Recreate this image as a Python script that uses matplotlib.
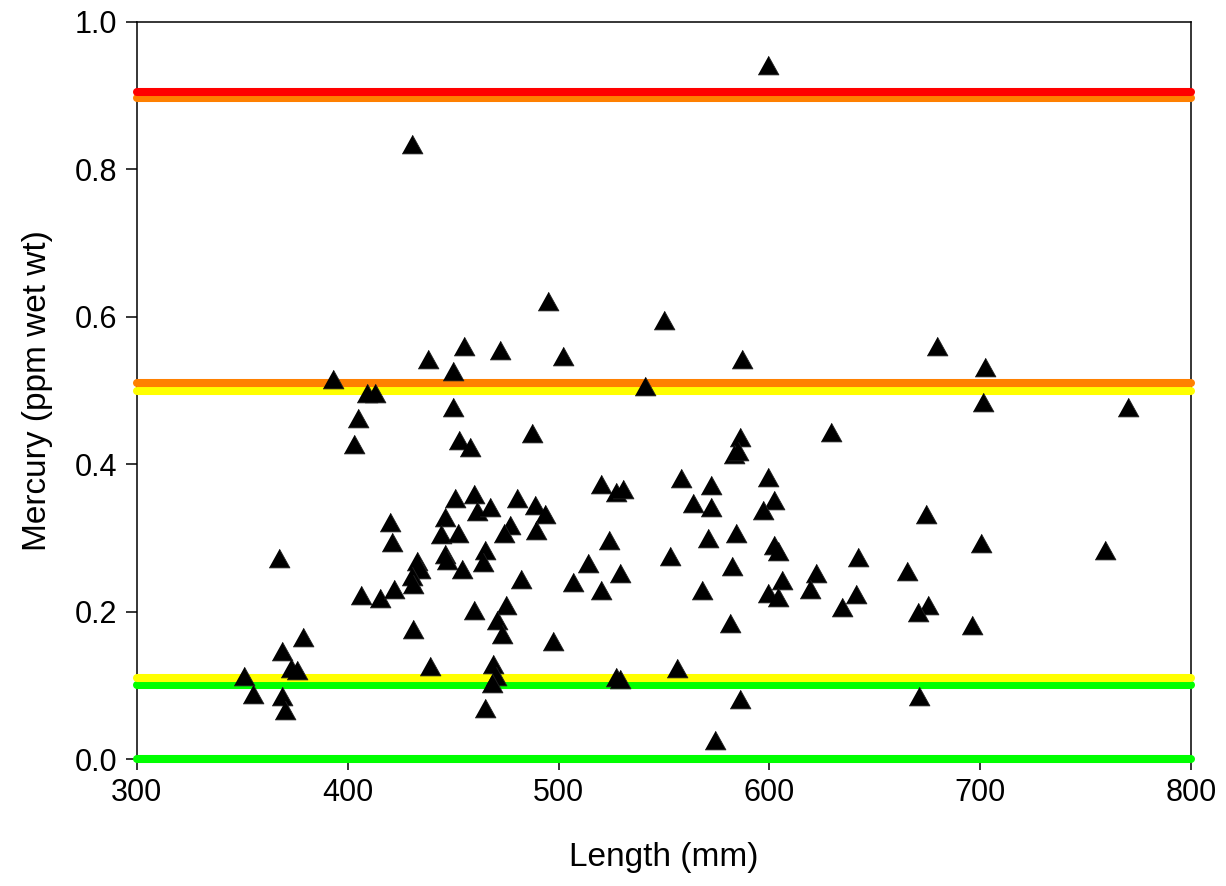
import matplotlib
matplotlib.use("Agg")
import matplotlib.pyplot as plt

plt.rcParams['font.family'] = ['Liberation Sans', 'DejaVu Sans']

# fish length (mm) and mercury (ppm wet wt)
length = [430.3, 599.2, 438.2, 455.1, 472.2, 450.0, 393.1, 409.0, 413.0, 495.1,
          550.2, 502.2, 587.1, 541.2, 679.4, 702.3, 701.2, 770.3, 674.3, 700.2,
          759.2, 642.2, 665.1, 641.1, 675.4, 670.4, 696.3, 671.1, 487.2, 586.1,
          629.1, 583.2, 585.2, 520.0, 527.2, 530.4, 558.1, 572.2, 599.2, 480.1,
          488.8, 493.5, 563.9, 572.2, 602.4, 597.1, 477.2, 474.1, 489.3, 524.0,
          571.0, 584.0, 602.2, 604.2, 553.1, 514.1, 582.1, 529.1, 622.1, 482.0,
          606.1, 507.0, 520.1, 568.2, 619.3, 599.2, 603.9, 634.3, 475.2, 470.9,
          473.3, 497.2, 581.3, 556.0, 527.2, 529.1, 586.1, 574.2, 450.0, 405.0,
          402.9, 452.9, 458.0, 451.0, 460.0, 461.1, 467.3, 446.1, 444.1, 452.4,
          420.0, 421.0, 465.1, 464.2, 446.1, 446.9, 454.0, 433.0, 434.3, 430.3,
          431.0, 367.2, 406.1, 415.3, 422.0, 460.1, 431.0, 379.0, 369.0, 373.2,
          376.1, 439.0, 469.0, 470.3, 468.2, 350.9, 355.2, 369.0, 370.2, 465.1]
mercury = [0.835, 0.941, 0.543, 0.561, 0.555, 0.527, 0.515, 0.497, 0.497, 0.622,
           0.595, 0.547, 0.543, 0.506, 0.561, 0.532, 0.485, 0.478, 0.333, 0.293,
           0.284, 0.274, 0.255, 0.224, 0.209, 0.199, 0.182, 0.086, 0.443, 0.437,
           0.444, 0.414, 0.418, 0.373, 0.362, 0.367, 0.381, 0.372, 0.383, 0.354,
           0.344, 0.333, 0.347, 0.342, 0.352, 0.338, 0.318, 0.306, 0.311, 0.297,
           0.300, 0.306, 0.291, 0.282, 0.276, 0.266, 0.262, 0.252, 0.252, 0.244,
           0.243, 0.240, 0.230, 0.230, 0.231, 0.225, 0.220, 0.206, 0.209, 0.188,
           0.170, 0.160, 0.185, 0.124, 0.111, 0.109, 0.081, 0.026, 0.478, 0.463,
           0.428, 0.433, 0.423, 0.354, 0.359, 0.337, 0.342, 0.329, 0.305, 0.307,
           0.322, 0.295, 0.284, 0.267, 0.278, 0.270, 0.258, 0.269, 0.258, 0.249,
           0.238, 0.273, 0.222, 0.219, 0.231, 0.202, 0.176, 0.165, 0.147, 0.124,
           0.121, 0.126, 0.129, 0.112, 0.103, 0.113, 0.088, 0.086, 0.067, 0.069]

# guideline levels and their colours (drawn in this order)
guide_levels = [0.897, 0.905, 0.500, 0.510, 0.100, 0.110, 0.0]
guide_colors = ['#ff8000', '#ff0000', '#ffff00', '#ff8000', '#00ff00', '#ffff00', '#00ff00']

fig = plt.figure(figsize=(12.26, 8.86), dpi=100)
ax = fig.add_axes([0.1117, 0.1433, 0.8597, 0.8319])

for lvl, c in zip(guide_levels, guide_colors):
    ax.plot([300, 800], [lvl, lvl], color=c, lw=5.8, solid_capstyle='round',
            clip_on=False, zorder=3)

tri = [(-1, -0.9), (1, -0.9), (0, 0.9)]
ax.plot(length, mercury, linestyle='none', marker=tri, ms=15,
        color='black', mec='#222222', mew=0.6, zorder=4, clip_on=False)

ax.set_xlim(300, 800)
ax.set_ylim(0, 1.0)
ax.set_xticks([300, 400, 500, 600, 700, 800])
ax.set_yticks([0.0, 0.2, 0.4, 0.6, 0.8, 1.0])
ax.set_yticklabels(['0.0', '0.2', '0.4', '0.6', '0.8', '1.0'])
ax.tick_params(direction='out', length=8, width=1.1, labelsize=22, pad=6)
for s in ax.spines.values():
    s.set_linewidth(1.1)

ax.set_xlabel('Length (mm)', fontsize=24, labelpad=24)
ax.set_ylabel('Mercury (ppm wet wt)', fontsize=24, labelpad=16)

fig.savefig('out.png', dpi=100)
